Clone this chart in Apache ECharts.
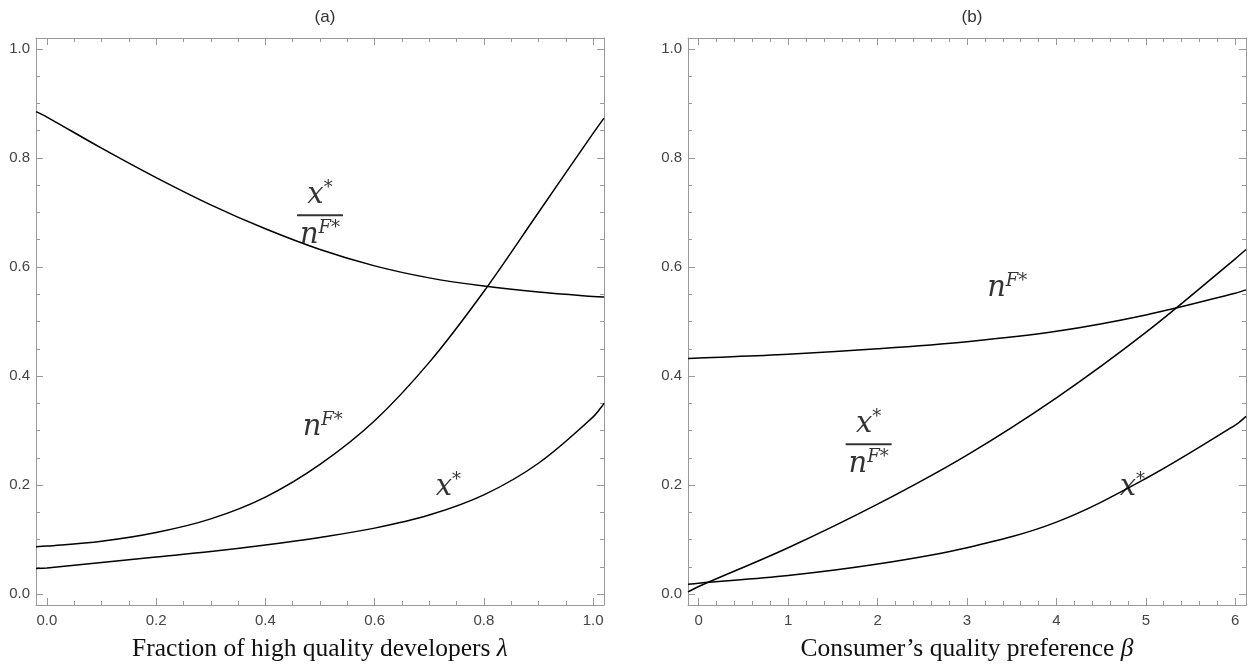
<!DOCTYPE html>
<html>
<head>
<meta charset="utf-8">
<script src="https://cdn.jsdelivr.net/npm/echarts@6/dist/echarts.min.js"></script>
<style>html,body{margin:0;padding:0;background:#fff}#c{width:1256px;height:667px}</style>
</head>
<body>
<div id="c"></div>
<script>
// ---- data (panel a) ----
const lamX   = [-0.02, 0, 0.1, 0.2, 0.3, 0.4, 0.5, 0.6, 0.7, 0.8, 0.9, 1.0, 1.02];
const ratioA = [0.885, 0.875, 0.818, 0.764, 0.714, 0.670, 0.632, 0.602, 0.580, 0.565, 0.554, 0.546, 0.545];
const nFA    = [0.087, 0.088, 0.097, 0.113, 0.138, 0.178, 0.238, 0.318, 0.425, 0.555, 0.700, 0.845, 0.873];
const xA     = [0.047, 0.048, 0.058, 0.068, 0.078, 0.090, 0.104, 0.121, 0.145, 0.182, 0.240, 0.325, 0.350];
// ---- data (panel b) ----
const betaX  = [-0.12, 0, 1, 2, 3, 4, 5, 6, 6.12];
const nFB    = [0.432, 0.433, 0.440, 0.450, 0.463, 0.482, 0.512, 0.552, 0.558];
const ratioB = [0.004, 0.014, 0.085, 0.165, 0.255, 0.360, 0.480, 0.615, 0.632];
const xB     = [0.018, 0.020, 0.034, 0.055, 0.085, 0.132, 0.212, 0.310, 0.326];
// ---- tick labels ----
const ticksLam  = [0, 0.2, 0.4, 0.6, 0.8, 1.0];
const ticksBeta = [0, 1, 2, 3, 4, 5, 6];
const ticksY    = [0, 0.2, 0.4, 0.6, 0.8, 1.0];
const panelTitles = ['(a)', '(b)'];
const xNames = ['Fraction of high quality developers {i|λ}', 'Consumer\u2019s quality preference {i|β}'];
// label anchors (data coords)
const labA = { ratio: [0.50, 0.695], nF: [0.505, 0.305], x: [0.735, 0.196] };
const labB = { ratio: [1.9, 0.275], nF: [3.45, 0.56], x: [4.85, 0.195] };

function minors(lo, hi, step, majors) {
  const out = [];
  for (let k = Math.ceil(lo / step - 1e-9); k * step <= hi + 1e-9; k++) {
    const v = +(k * step).toFixed(6);
    if (!majors.some(m => Math.abs(m - v) < 1e-9)) out.push(v);
  }
  return out;
}

const frame = '#9a9a9a';
const tickFont = { fontFamily: 'Liberation Sans', fontSize: 15, color: '#444' };

function axisSet(dim, grid, min, max, majors, minorVals, name) {
  const isX = dim === 'x';
  const sides = isX ? ['bottom', 'top'] : ['left', 'right'];
  const out = [];
  sides.forEach((pos, si) => {
    out.push({
      type: 'value', gridIndex: grid, position: pos, min, max,
      axisLine: { show: true, onZero: false, lineStyle: { color: frame, width: 1 } },
      axisTick: { show: true, inside: true, length: 7, customValues: majors, lineStyle: { color: frame } },
      axisLabel: {
        show: si === 0, customValues: majors, margin: isX ? 8 : 6, ...tickFont,
        formatter: v => (isX && grid === 1) ? String(Math.round(v)) : v.toFixed(1)
      },
      splitLine: { show: false },
      name: (si === 0 && name) ? name : '',
      nameLocation: 'middle', nameGap: 31,
      nameTextStyle: {
        fontFamily: 'Liberation Serif', fontSize: 25.5, color: '#111',
        rich: { i: { fontFamily: 'Liberation Serif', fontStyle: 'italic', fontSize: 25.5, color: '#111' } }
      }
    });
    out.push({
      type: 'value', gridIndex: grid, position: pos, min, max,
      axisLine: { show: false, onZero: false },
      axisTick: { show: true, inside: true, length: 4, customValues: minorVals, lineStyle: { color: frame } },
      axisLabel: { show: false },
      splitLine: { show: false }
    });
  });
  return out;
}

const xAxes = [
  ...axisSet('x', 0, -0.02, 1.02, ticksLam, minors(-0.02, 1.02, 0.05, ticksLam), xNames[0]),
  ...axisSet('x', 1, -0.12, 6.12, ticksBeta, minors(-0.12, 6.12, 0.2, ticksBeta), xNames[1])
];
const yAxes = [
  ...axisSet('y', 0, -0.02, 1.02, ticksY, minors(-0.02, 1.02, 0.05, ticksY), ''),
  ...axisSet('y', 1, -0.02, 1.02, ticksY, minors(-0.02, 1.02, 0.05, ticksY), '')
];

const lineStyle = { color: '#000', width: 1.5 };
function curve(xs, ys, gi) {
  return {
    type: 'line', xAxisIndex: gi * 4, yAxisIndex: gi * 4, smooth: 0.35, showSymbol: false,
    lineStyle, data: xs.map((x, i) => [x, ys[i]]), silent: true, animation: false, z: 3
  };
}

const mathFont = 'DejaVu Serif';
const rich = {
  n: { fontFamily: mathFont, fontStyle: 'italic', fontSize: 29, color: '#000', lineHeight: 32 },
  s: { fontFamily: mathFont, fontStyle: 'italic', fontSize: 18, color: '#000', lineHeight: 14, verticalAlign: 'top', padding: [0, 0, 12, 0] },
  bar: { width: 46, height: 2, backgroundColor: '#000', lineHeight: 8 }
};
function mathLabel(pos, gi, fmt) {
  return {
    type: 'scatter', xAxisIndex: gi * 4, yAxisIndex: gi * 4, symbolSize: 0, silent: true, animation: false,
    data: [pos],
    label: { show: true, position: 'inside', align: 'center', verticalAlign: 'middle', formatter: fmt, rich },
    z: 5
  };
}
const fracFmt = '{n|x}{s|*}\n{bar|}\n{n|n}{s|F*}';
const nFmt = '{n|n}{s|F*}';
const xFmt = '{n|x}{s|*}';

const titleStyle = { fontFamily: 'Liberation Sans', fontSize: 17, fontWeight: 'normal', color: '#333' };
const option = {
  backgroundColor: '#fff',
  animation: false,
  title: [
    { text: panelTitles[0], left: 320, top: 4, textAlign: 'center', textStyle: titleStyle },
    { text: panelTitles[1], left: 967, top: 4, textAlign: 'center', textStyle: titleStyle }
  ],
  grid: [
    { left: 36, top: 38, width: 568, height: 567 },
    { left: 688, top: 38, width: 558, height: 567 }
  ],
  xAxis: xAxes,
  yAxis: yAxes,
  series: [
    curve(lamX, ratioA, 0), curve(lamX, nFA, 0), curve(lamX, xA, 0),
    curve(betaX, nFB, 1), curve(betaX, ratioB, 1), curve(betaX, xB, 1),
    mathLabel(labA.ratio, 0, fracFmt), mathLabel(labA.nF, 0, nFmt), mathLabel(labA.x, 0, xFmt),
    mathLabel(labB.ratio, 1, fracFmt), mathLabel(labB.nF, 1, nFmt), mathLabel(labB.x, 1, xFmt)
  ]
};
echarts.init(document.getElementById('c'), null, { renderer: 'canvas' }).setOption(option);
</script>
</body>
</html>
